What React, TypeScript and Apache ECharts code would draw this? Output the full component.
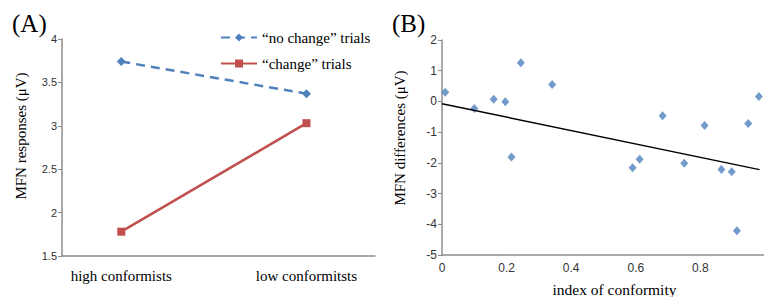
import React, { useEffect, useRef } from "react";
import * as echarts from "echarts";

// Panel A
const groupLabels = ["high conformists", "low conformitsts"];
const groupX = [0, 1];
const noChangeValues = [3.74, 3.37];
const changeValues = [1.78, 3.03];

// Panel B
const conformityIndex = [0.01, 0.1, 0.16, 0.196, 0.215, 0.244, 0.341, 0.59, 0.612, 0.683, 0.75, 0.813, 0.865, 0.897, 0.913, 0.948, 0.981];
const mfnDifferences = [0.3, -0.23, 0.07, -0.01, -1.81, 1.26, 0.55, -2.16, -1.88, -0.47, -2.01, -0.78, -2.22, -2.29, -4.21, -0.72, 0.16];
const trendX = [0, 0.983];
const trendY = [-0.075, -2.22];

const SERIF = "'Liberation Serif', 'Times New Roman', serif";
const SANS = "'Liberation Sans', Arial, sans-serif";
const AXIS = "#8c8c8c";
const BLUE = "#4F81BD";
const RED = "#C0504D";

export default function App() {
  const ref = useRef<HTMLDivElement>(null);
  useEffect(() => {
    if (!ref.current) return;
    const chart = echarts.init(ref.current, undefined, { renderer: "svg" });
    const tickLabel = { fontFamily: SANS, fontSize: 11, color: "#333" };
    chart.setOption({
      animation: false,
      backgroundColor: "#fff",
      title: [
        { text: "(A)", left: 7, top: 6, textStyle: { fontFamily: SERIF, fontSize: 25, fontWeight: "normal", color: "#000" } },
        { text: "(B)", left: 387, top: 6, textStyle: { fontFamily: SERIF, fontSize: 25, fontWeight: "normal", color: "#000" } },
      ],
      legend: {
        orient: "vertical",
        left: 215,
        top: 25,
        itemWidth: 36,
        itemHeight: 10,
        itemGap: 11,
        textStyle: { fontFamily: SERIF, fontSize: 15, color: "#000" },
        data: ["\u201cno change\u201d trials", "\u201cchange\u201d trials"],
      },
      grid: [
        { left: 62, top: 39, width: 313, height: 217, outerBoundsMode: "none", containLabel: false },
        { left: 442, top: 40, width: 323, height: 215, outerBoundsMode: "none", containLabel: false },
      ],
      xAxis: [
        {
          gridIndex: 0,
          type: "value",
          min: -0.32,
          max: 1.37,
          splitLine: { show: false },
          axisLine: { show: true, onZero: false, lineStyle: { color: AXIS, width: 1.5 } },
          axisTick: { show: false },
          axisLabel: {
            customValues: groupX,
            formatter: (v: number) => groupLabels[Math.round(v)] ?? "",
            fontFamily: SERIF,
            fontSize: 15,
            color: "#000",
            margin: 12,
          },
        },
        {
          gridIndex: 1,
          type: "value",
          min: 0,
          max: 1,
          interval: 0.2,
          splitLine: { show: false },
          axisLine: { show: true, onZero: false, lineStyle: { color: AXIS, width: 1.5 } },
          axisTick: { show: false },
          axisLabel: { ...tickLabel, fontSize: 12, margin: 7, showMaxLabel: false, formatter: (v: number) => String(Math.round(v * 10) / 10) },
          name: "index of conformity",
          nameLocation: "middle",
          nameGap: 26,
          nameTextStyle: { fontFamily: SERIF, fontSize: 15.5, color: "#000", padding: [0, 0, 0, 22] },
        },
      ],
      yAxis: [
        {
          gridIndex: 0,
          type: "value",
          min: 1.5,
          max: 4,
          interval: 0.5,
          splitLine: { show: false },
          axisLine: { show: true, onZero: false, lineStyle: { color: AXIS, width: 1.5 } },
          axisTick: { show: true, inside: false, length: 4, lineStyle: { color: AXIS } },
          axisLabel: { ...tickLabel, margin: 5 },
        },
        {
          gridIndex: 1,
          type: "value",
          min: -5,
          max: 2,
          interval: 1,
          splitLine: { show: false },
          axisLine: { show: true, onZero: false, lineStyle: { color: AXIS, width: 1.5 } },
          axisTick: { show: true, length: 4, lineStyle: { color: AXIS } },
          axisLabel: { ...tickLabel, fontSize: 12, margin: 5 },
        },
      ],
      graphic: [
        { type: "text", x: 21, y: 136, rotation: Math.PI / 2, style: { text: "MFN responses (\u03bcV)", font: `15px ${SERIF}`, fill: "#000", textAlign: "center", textVerticalAlign: "middle" } },
        { type: "text", x: 400, y: 138, rotation: Math.PI / 2, style: { text: "MFN differences (\u03bcV)", font: `15px ${SERIF}`, fill: "#000", textAlign: "center", textVerticalAlign: "middle" } },
      ],
      series: [
        {
          name: "\u201cno change\u201d trials",
          type: "line",
          xAxisIndex: 0,
          yAxisIndex: 0,
          data: groupX.map((x, i) => [x, noChangeValues[i]]),
          symbol: "diamond",
          symbolSize: 9,
          showAllSymbol: true,
          lineStyle: { color: BLUE, width: 2.5, type: [9, 6] },
          itemStyle: { color: BLUE },
        },
        {
          name: "\u201cchange\u201d trials",
          type: "line",
          xAxisIndex: 0,
          yAxisIndex: 0,
          data: groupX.map((x, i) => [x, changeValues[i]]),
          symbol: "rect",
          symbolSize: 8,
          showAllSymbol: true,
          lineStyle: { color: RED, width: 2.5 },
          itemStyle: { color: RED },
        },
        {
          name: "scatter",
          type: "scatter",
          xAxisIndex: 1,
          yAxisIndex: 1,
          data: conformityIndex.map((x, i) => [x, mfnDifferences[i]]),
          symbol: "diamond",
          symbolSize: [8, 9],
          itemStyle: { color: BLUE },
        },
        {
          name: "trend",
          type: "line",
          xAxisIndex: 1,
          yAxisIndex: 1,
          data: trendX.map((x, i) => [x, trendY[i]]),
          showSymbol: false,
          symbol: "none",
          lineStyle: { color: "#000", width: 1.5 },
        },
      ],
    });
    return () => chart.dispose();
  }, []);
  return <div ref={ref} style={{ position: "fixed", left: 0, top: 0, width: 764, height: 297 }} />;
}
